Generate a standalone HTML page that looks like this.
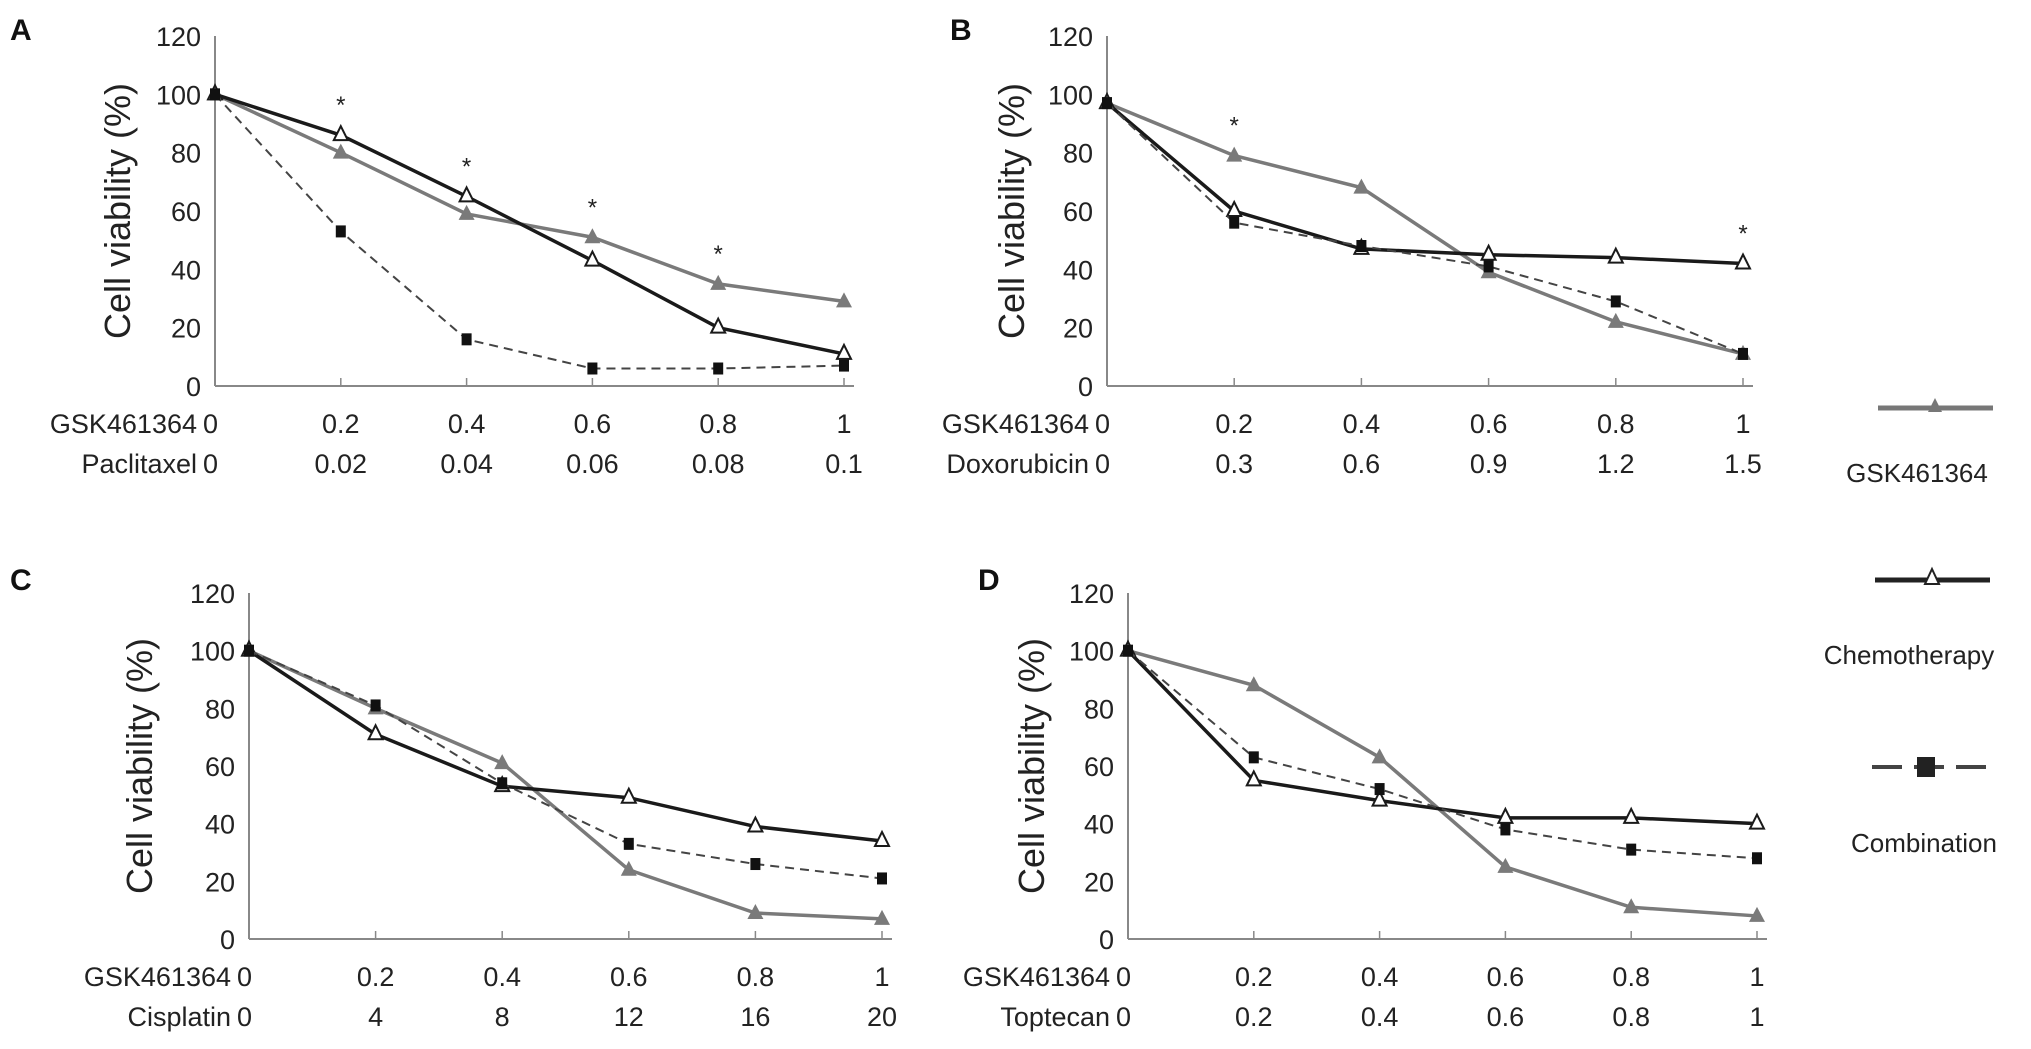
<!DOCTYPE html>
<html><head><meta charset="utf-8">
<style>
html,body{margin:0;padding:0;background:#fff;}
svg{display:block;font-family:"Liberation Sans",Arial,sans-serif;}
</style></head>
<body>
<svg id="fig" width="2031" height="1049" viewBox="0 0 2031 1049" xmlns="http://www.w3.org/2000/svg">
  <g id="legend">
    <g>
      <line x1="1878" y1="408" x2="1993" y2="408" stroke="#777" stroke-width="5"/>
      <path d="M1935,398 L1942,412 L1928,412 Z" fill="#777"/>
      <text x="1917" y="482" font-size="26" text-anchor="middle" fill="#222">GSK461364</text>
    </g>
    <g>
      <line x1="1875" y1="580" x2="1990" y2="580" stroke="#222" stroke-width="5"/>
      <path d="M1932,569 L1939,584 L1925,584 Z" fill="#fff" stroke="#222" stroke-width="2"/>
      <text x="1909" y="664" font-size="26" text-anchor="middle" fill="#222">Chemotherapy</text>
    </g>
    <g>
      <line x1="1872" y1="767" x2="1990" y2="767" stroke="#444" stroke-width="4" stroke-dasharray="30,12"/>
      <rect x="1917" y="757" width="18" height="20" fill="#222"/>
      <text x="1924" y="852" font-size="26" text-anchor="middle" fill="#222">Combination</text>
    </g>
  </g>
</svg>
<script>
const panelLetters = ["A","B","C","D"];
const drugNames = ["Paclitaxel","Doxorubicin","Cisplatin","Toptecan"];
const gskTicks = ["0","0.2","0.4","0.6","0.8","1"];
const drugTicksA = ["0","0.02","0.04","0.06","0.08","0.1"];
const drugTicksB = ["0","0.3","0.6","0.9","1.2","1.5"];
const drugTicksC = ["0","4","8","12","16","20"];
const drugTicksD = ["0","0.2","0.4","0.6","0.8","1"];
const yTicks = [0,20,40,60,80,100,120];

const gskA = [100,80,59,51,35,29];
const chemoA = [100,86,65,43,20,11];
const combA = [100,53,16,6,6,7];
const starsA = [1,2,3,4];

const gskB = [97,79,68,39,22,11];
const chemoB = [97,60,47,45,44,42];
const combB = [97,56,48,41,29,11];
const starsB = [1,5];

const gskC = [100,80,61,24,9,7];
const chemoC = [100,71,53,49,39,34];
const combC = [100,81,54,33,26,21];
const starsC = [];

const gskD = [100,88,63,25,11,8];
const chemoD = [100,55,48,42,42,40];
const combD = [100,63,52,38,31,28];
const starsD = [];

const NS = "http://www.w3.org/2000/svg";
const svg = document.getElementById("fig");
function mk(tag, attrs, parent){
  const e = document.createElementNS(NS, tag);
  for (const k in attrs) e.setAttribute(k, attrs[k]);
  parent.appendChild(e);
  return e;
}
const layouts = [
  {x0:215,x1:844,y0:386,y1:36,letterX:10,letterY:40,titleX:118,rowY:[433,473]},
  {x0:1107,x1:1743,y0:386,y1:36,letterX:950,letterY:40,titleX:1012,rowY:[433,473]},
  {x0:249,x1:882,y0:939,y1:593,letterX:10,letterY:590,titleX:140,rowY:[986,1026]},
  {x0:1128,x1:1757,y0:939,y1:593,letterX:978,letterY:590,titleX:1032,rowY:[986,1026]}
];
const allDrugTicks = [drugTicksA,drugTicksB,drugTicksC,drugTicksD];
const allGsk = [gskA,gskB,gskC,gskD];
const allChemo = [chemoA,chemoB,chemoC,chemoD];
const allComb = [combA,combB,combC,combD];
const allStars = [starsA,starsB,starsC,starsD];

layouts.forEach((L,p)=>{
  const g = mk("g",{},svg);
  
  
  const xs = i => L.x0 + (L.x1-L.x0)*i/5;
  const ys = v => L.y0 + (L.y1-L.y0)*v/120;
  const letter = mk("text",{x:L.letterX,y:L.letterY,"font-size":30,"font-weight":"bold",fill:"#111"},g);
  letter.textContent = panelLetters[p];
  
  
  const yax = mk("line",{x1:L.x0,y1:L.y0,x2:L.x0,y2:L.y1,stroke:"#888","stroke-width":2},g);
  
  
  const xax = mk("line",{x1:L.x0,y1:L.y0,x2:L.x1+10,y2:L.y0,stroke:"#888","stroke-width":2},g);
  
  
  yTicks.forEach(v=>{
    const t = mk("text",{x:L.x0-14,y:ys(v)+10,"font-size":27,"text-anchor":"end",fill:"#222"},g);
    t.textContent = v;
    
    
  });
  const title = mk("text",{x:L.titleX,y:(L.y0+L.y1)/2,"font-size":36,"text-anchor":"middle",fill:"#222",transform:`rotate(-90 ${L.titleX} ${(L.y0+L.y1)/2})`,dy:12},g);
  title.textContent = "Cell viability (%)";
  
  
  gskTicks.forEach((s,i)=>{
    if(i>0){
      const tk = mk("line",{x1:xs(i),y1:L.y0,x2:xs(i),y2:L.y0-8,stroke:"#888","stroke-width":1.5},g);
      
      
    }
    const t1 = mk("text",{x:xs(i),y:L.rowY[0],"font-size":27,"text-anchor":i==0?"start":"middle",fill:"#222"},g);
    t1.textContent = s;
    if(i==0){ t1.setAttribute("x", xs(0)-12); }
    
    
    const t2 = mk("text",{x:xs(i),y:L.rowY[1],"font-size":27,"text-anchor":i==0?"start":"middle",fill:"#222"},g);
    t2.textContent = allDrugTicks[p][i];
    if(i==0){ t2.setAttribute("x", xs(0)-12); }
    
    
  });
  const r1 = mk("text",{x:xs(0)-18,y:L.rowY[0],"font-size":27,"text-anchor":"end",fill:"#222"},g);
  r1.textContent = "GSK461364";
  
  
  const r2 = mk("text",{x:xs(0)-18,y:L.rowY[1],"font-size":27,"text-anchor":"end",fill:"#222"},g);
  r2.textContent = drugNames[p];
  
  

  function series(vals,color,w,dash,marker,name){
    const sg = mk("g",{},g);
    
    
    const pts = vals.map((v,i)=>xs(i)+","+ys(v)).join(" ");
    const pl = mk("polyline",{points:pts,fill:"none",stroke:color,"stroke-width":w},sg);
    if(dash) pl.setAttribute("stroke-dasharray",dash);
    
    
    vals.forEach((v,i)=>{
      const cx=xs(i), cy=ys(v);
      let m;
      if(marker==="tri") m = mk("path",{d:`M${cx},${cy-9} L${cx+8},${cy+6} L${cx-8},${cy+6} Z`,fill:color},sg);
      else if(marker==="otri") m = mk("path",{d:`M${cx},${cy-9} L${cx+7},${cy+5} L${cx-7},${cy+5} Z`,fill:"#fff",stroke:color,"stroke-width":2},sg);
      else m = mk("rect",{x:cx-5,y:cy-6,width:10,height:12,fill:"#111"},sg);
      
      
    });
  }
  series(allGsk[p],"#7a7a7a",3.5,null,"tri","gsk461364-series");
  series(allChemo[p],"#1a1a1a",3.5,null,"otri","chemotherapy-series");
  series(allComb[p],"#444",2,"9,6","sq","combination-series");
  allStars[p].forEach(i=>{
    const top = Math.max(allGsk[p][i],allChemo[p][i],allComb[p][i]);
    const s = mk("text",{x:xs(i),y:ys(top)-22,"font-size":24,"text-anchor":"middle",fill:"#222"},g);
    s.textContent = "*";
    
    
  });
});
</script>
</body></html>
